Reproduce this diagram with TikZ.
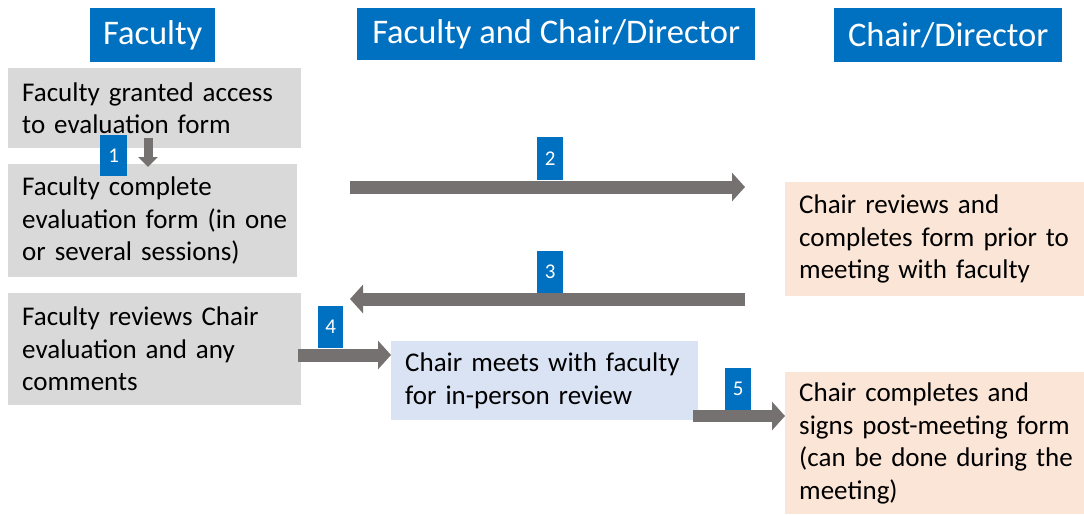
\documentclass[tikz,border=0pt]{standalone}
\usepackage{fontspec}
\setmainfont{Carlito}
\usetikzlibrary{arrows.meta,calc}
\definecolor{hdrblue}{HTML}{0070C0}
\definecolor{boxgray}{HTML}{D9D9D9}
\definecolor{arrgray}{HTML}{767171}
\definecolor{peach}{HTML}{FBE5D6}
\definecolor{paleblue}{HTML}{DAE3F3}
% left padding of the text inside a step box
\newcommand\boxpad{\leftskip=14pt\relax}
\tikzset{
  hdr/.style={fill=hdrblue, text=white, inner sep=0pt, anchor=north west,
    font=\fontsize{34.5}{40}\selectfont},
  stepbox/.style={anchor=north west, inner xsep=0pt, inner ysep=0pt, align=left,
    font=\fontsize{27}{32.5}\selectfont, text=black},
  badge/.style={fill=hdrblue, text=white, inner sep=0pt, anchor=north west,
    minimum width=26pt, minimum height=42pt, font=\fontsize{21}{24}\selectfont},
  flow/.style={draw=arrgray, line width=13pt,
    -{Triangle[width=28pt,length=13pt]}},
  flowsmall/.style={draw=arrgray, line width=9pt,
    -{Triangle[width=19pt,length=10pt]}},
}
\begin{document}
\begin{tikzpicture}[x=1pt,y=-1pt]
\useasboundingbox (0,0) rectangle (1084,514);
% column headers
\node[hdr, minimum width=125pt, minimum height=54pt] (hfac) at (90,8) {Faculty};
\node[hdr, minimum width=398pt, minimum height=52pt] (hboth) at (357,8) {Faculty and Chair/Director};
\node[hdr, minimum width=228pt, minimum height=54pt] (hchair) at (834,8) {Chair/Director};
% step boxes
\node[stepbox, fill=boxgray, text width=293pt, minimum height=80pt] (access) at (8,68)
  {\boxpad Faculty granted access\\to evaluation form\par};
\node[stepbox, fill=boxgray, text width=289pt, minimum height=113pt] (complete) at (8,164)
  {\boxpad Faculty complete\\evaluation form (in one\\or several sessions)\par};
\node[stepbox, fill=boxgray, text width=293pt, minimum height=112pt] (freview) at (8,293)
  {\boxpad Faculty reviews Chair\\evaluation and any\\comments\par};
\node[stepbox, fill=paleblue, text width=307pt, minimum height=79pt] (meet) at (391,341)
  {\boxpad Chair meets with faculty\\for in-person review\par};
\node[stepbox, fill=peach, text width=299pt, minimum height=114pt] (creview) at (785,182)
  {\boxpad Chair reviews and\\completes form prior to\\meeting with faculty\par};
\node[stepbox, fill=peach, text width=299pt, minimum height=142pt] (csign) at (785,372)
  {\boxpad Chair completes and\\signs post-meeting form\\(can be done during the\\meeting)\par};
% connector end points
\coordinate (a1s) at ($(access.south west)+(140,-10)$);
\coordinate (a1e) at ($(complete.north west)+(140,3)$);
\coordinate (a2s) at (350,187);
\coordinate (a2e) at (745,187);
\coordinate (a3s) at (745,299);
\coordinate (a3e) at (350,299);
\coordinate (a4s) at (298,355);
\coordinate (a4e) at (meet.west |- 0,355);
\coordinate (a5s) at (693,416);
\coordinate (a5e) at (csign.west |- 0,416);
% connectors
\draw[flowsmall] (a1s) -- (a1e);
\draw[flow] (a2s) -- (a2e);
\draw[flow] (a3s) -- (a3e);
\draw[flow] (a4s) -- (a4e);
\draw[flow, line width=12pt] (a5s) -- (a5e);
% step numbers
\node[badge, minimum width=27pt, minimum height=41pt] (n1) at (100,135) {1};
\node[badge, minimum height=43pt] (n2) at (537,137) {2};
\node[badge, minimum height=42pt] (n3) at (537,251) {3};
\node[badge, minimum width=25pt] (n4) at (318,306) {4};
\node[badge, minimum height=42pt] (n5) at (725,368) {5};
\end{tikzpicture}
\end{document}
